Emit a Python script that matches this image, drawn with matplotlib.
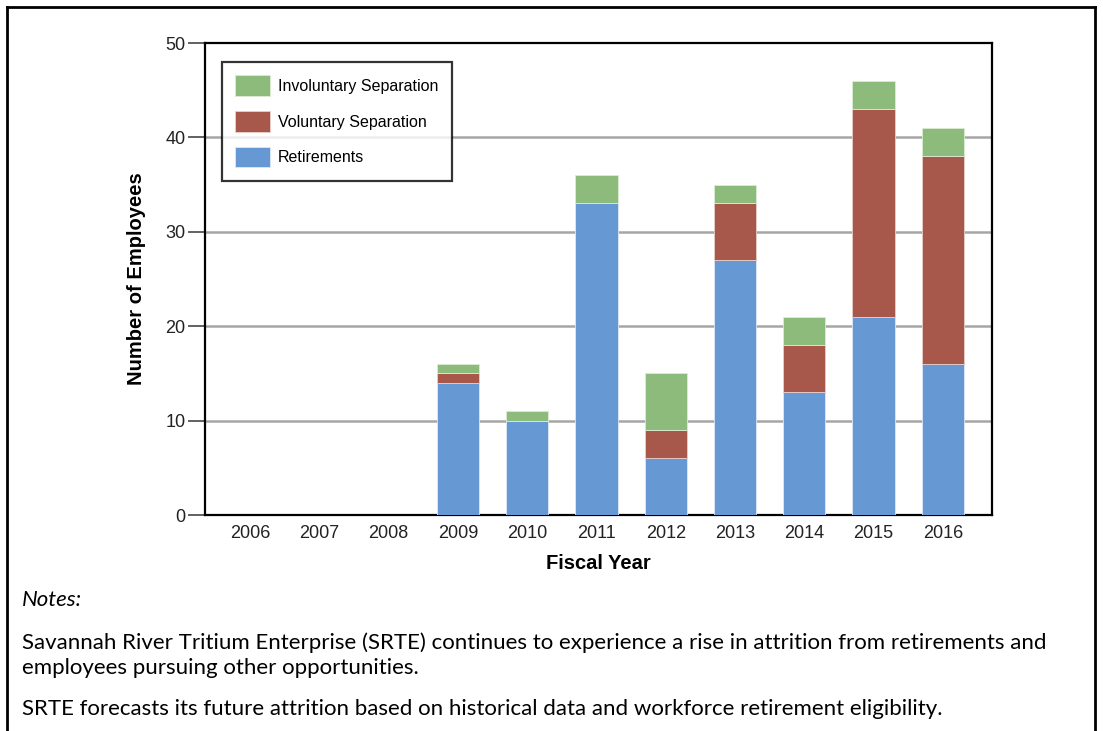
# SRTE attrition by fiscal year - stacked bars

import numpy as np
import matplotlib.pyplot as plt
from matplotlib.lines import Line2D

# -------------------- Data --------------------
years = ["2006", "2007", "2008", "2009", "2010", "2011", "2012", "2013", "2014", "2015", "2016"]
retirements = [0, 0, 0, 14, 10, 33, 6, 27, 13, 21, 16]
voluntary = [0, 0, 0, 1, 0, 0, 3, 6, 5, 22, 22]
involuntary = [0, 0, 0, 1, 1, 3, 6, 2, 3, 3, 3]

notes_title = "Notes:"
note_1 = ("Savannah River Tritium Enterprise (SRTE) continues to experience a rise in attrition from retirements and\n"
          "employees pursuing other opportunities.")
note_2 = "SRTE forecasts its future attrition based on historical data and workforce retirement eligibility."

blue = "#6699D3"
red = "#A8574B"
green = "#8DBB7B"

plt.rcParams["font.family"] = ["Liberation Sans", "DejaVu Sans"]

# -------------------- Figure --------------------
fig = plt.figure(figsize=(11.03, 7.31), dpi=100)
W, H = 1103, 731
ax = fig.add_axes([205 / W, 1 - 515 / H, (992 - 205) / W, (515 - 43) / H])

x = np.arange(len(years))
ret = np.array(retirements)
vol = np.array(voluntary)
inv = np.array(involuntary)
bw = 0.61
ax.bar(x, ret, bw, color=blue, edgecolor="#dce8f5", linewidth=0.6, label="Retirements", zorder=3)
ax.bar(x, vol, bw, bottom=ret, color=red, edgecolor="#e8cfcb", linewidth=0.6, label="Voluntary Separation", zorder=3)
ax.bar(x, inv, bw, bottom=ret + vol, color=green, edgecolor="#dcebd6", linewidth=0.6, label="Involuntary Separation", zorder=3)

ax.set_xlim(-0.65, 10.71)
ax.set_ylim(0, 50)
ax.set_yticks([0, 10, 20, 30, 40, 50])
ax.set_xticks(x)
ax.set_xticklabels(years)
ax.tick_params(axis="x", length=0, pad=7, labelsize=13, colors="#222222")
ax.tick_params(axis="y", length=12, width=1.3, color="#555555", pad=2, labelsize=13, labelcolor="#222222")
for g in [10, 20, 30, 40]:
    ax.axhline(g, color="#a6a6a6", linewidth=1.8, zorder=1)
for s in ax.spines.values():
    s.set_linewidth(1.6)
    s.set_color("black")

ax.set_xlabel("Fiscal Year", fontsize=14.5, fontweight="bold", labelpad=9)
ax.set_ylabel("Number of Employees", fontsize=14.5, fontweight="bold", labelpad=14)

handles, labels = ax.get_legend_handles_labels()
leg = ax.legend(handles[::-1], labels[::-1], loc="upper left", bbox_to_anchor=(0.021, 0.96),
                fontsize=11.5, frameon=True, fancybox=False, edgecolor="black",
                handlelength=2.2, handleheight=1.6, labelspacing=0.95, borderpad=0.85,
                handletextpad=0.5, borderaxespad=0)
leg.get_frame().set_linewidth(1.6)

# -------------------- Notes --------------------
nfont = ["Lato", "DejaVu Sans"]
fig.text(22 / W, 1 - 600 / H, notes_title, fontsize=16, style="italic", family=nfont, va="center")
fig.text(22 / W, 1 - 655 / H, note_1, fontsize=16, family=nfont, va="center", linespacing=1.32)
fig.text(22 / W, 1 - 709 / H, note_2, fontsize=16, family=nfont, va="center")

# outer frame
fig.add_artist(Line2D([7 / W, 7 / W], [0, 1 - 7 / H], color="black", linewidth=2))
fig.add_artist(Line2D([7 / W, 1095 / W], [1 - 7 / H, 1 - 7 / H], color="black", linewidth=2))
fig.add_artist(Line2D([1095 / W, 1095 / W], [0, 1 - 7 / H], color="black", linewidth=2))

fig.savefig("out.png", dpi=100)
